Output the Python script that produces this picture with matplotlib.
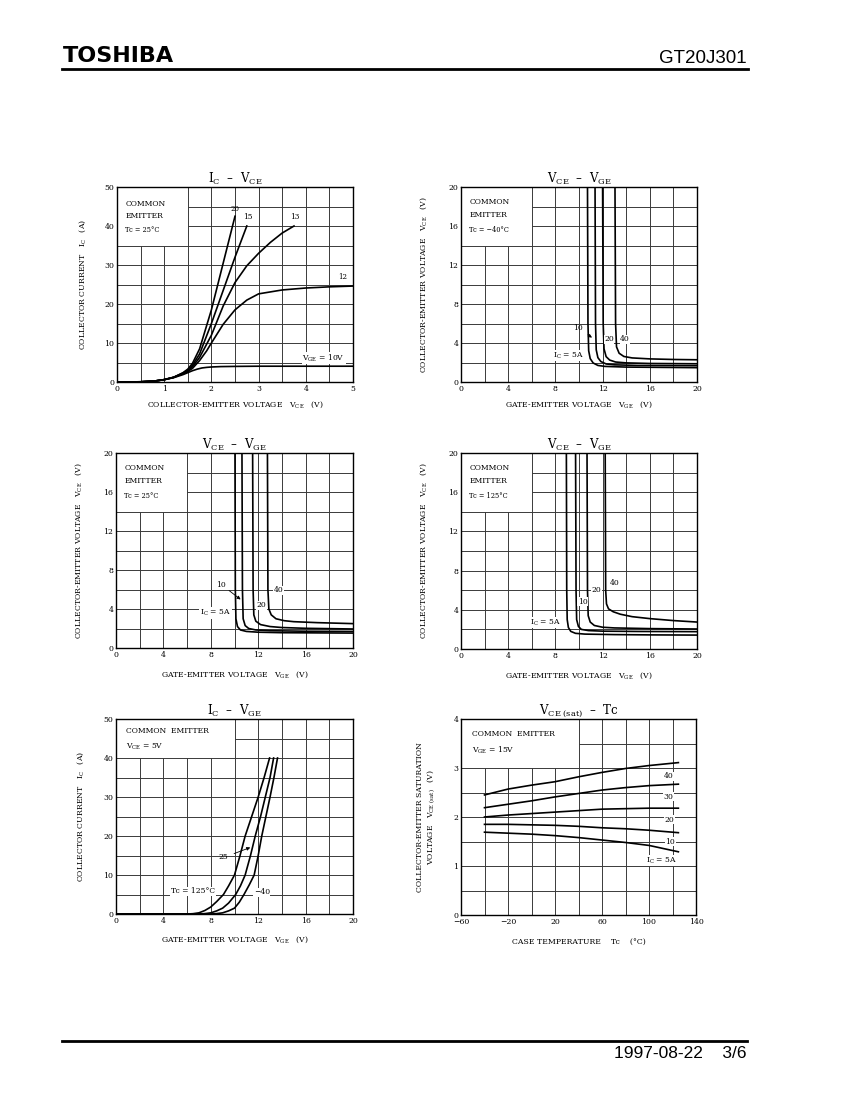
import matplotlib
matplotlib.use('Agg')
import matplotlib.pyplot as plt
from matplotlib.ticker import MultipleLocator
from matplotlib.patches import Rectangle
from matplotlib.lines import Line2D

plt.rcParams['font.family'] = ['DejaVu Serif']
plt.rcParams['mathtext.default'] = 'regular'

W, H = 850, 1100

# ---- IC - VCE, Tc=25C  (VCE [V], IC [A]) for VGE = 10, 12, 13, 15, 20 V
vce_10 = [0, 0.5, 0.8, 1.0, 1.2, 1.4, 1.5, 1.6, 1.7, 1.8, 1.9, 2.0, 2.2, 2.5, 3.0, 4.0, 5.0]
ic_10 = [0, 0.05, 0.25, 0.6, 1.1, 1.9, 2.4, 2.9, 3.3, 3.6, 3.75, 3.85, 3.95, 4.0, 4.05, 4.05, 4.05]
vce_12 = [0, 0.5, 0.8, 1.0, 1.2, 1.4, 1.5, 1.6, 1.75, 1.9, 2.0, 2.25, 2.5, 2.75, 3.0, 3.5, 4.0, 4.5, 5.0]
ic_12 = [0, 0.05, 0.25, 0.6, 1.2, 2.1, 2.7, 3.5, 5.5, 8.0, 10.0, 14.8, 18.5, 21.0, 22.6, 23.6, 24.1, 24.4, 24.6]
vce_13 = [0, 0.5, 0.8, 1.0, 1.2, 1.4, 1.5, 1.6, 1.75, 2.0, 2.25, 2.5, 2.75, 3.0, 3.25, 3.5, 3.75]
ic_13 = [0, 0.05, 0.25, 0.6, 1.2, 2.2, 2.9, 3.9, 6.3, 12.0, 19.5, 25.5, 29.8, 33.0, 35.8, 38.2, 40.0]
vce_15 = [0, 0.5, 0.8, 1.0, 1.2, 1.4, 1.5, 1.6, 1.75, 2.0, 2.25, 2.5, 2.75]
ic_15 = [0, 0.05, 0.25, 0.6, 1.2, 2.3, 3.1, 4.3, 7.2, 15.0, 23.5, 32.0, 40.0]
vce_20 = [0, 0.5, 0.8, 1.0, 1.2, 1.4, 1.5, 1.6, 1.75, 2.0, 2.25, 2.5]
ic_20 = [0, 0.05, 0.25, 0.6, 1.2, 2.4, 3.3, 4.8, 8.5, 18.5, 30.5, 42.5]

# ---- VCE - VGE, Tc=-40C  (VGE [V], VCE [V]) for IC = 5, 10, 20, 40 A
m40_vge_5 = [10.72, 10.76, 10.82, 10.95, 11.2, 11.6, 12.2, 14, 17, 20]
m40_vce_5 = [20, 6, 3.2, 2.4, 1.95, 1.7, 1.6, 1.53, 1.5, 1.47]
m40_vge_10 = [11.36, 11.4, 11.46, 11.6, 11.85, 12.3, 13, 15, 20]
m40_vce_10 = [20, 6, 3.3, 2.5, 2.1, 1.85, 1.76, 1.7, 1.67]
m40_vge_20 = [12.0, 12.05, 12.12, 12.3, 12.6, 13.1, 14, 16, 20]
m40_vce_20 = [20, 6, 3.4, 2.6, 2.25, 2.05, 1.96, 1.9, 1.87]
m40_vge_40 = [13.05, 13.1, 13.18, 13.4, 13.8, 14.5, 16, 18, 20]
m40_vce_40 = [20, 6, 3.6, 2.95, 2.62, 2.47, 2.37, 2.31, 2.28]

# ---- VCE - VGE, Tc=25C
t25_vge_5 = [10.04, 10.07, 10.12, 10.25, 10.5, 11.0, 12, 14, 17, 20]
t25_vce_5 = [20, 6, 3.0, 2.2, 1.85, 1.7, 1.62, 1.57, 1.55, 1.53]
t25_vge_10 = [10.63, 10.67, 10.73, 10.9, 11.2, 11.8, 13, 16, 20]
t25_vce_10 = [20, 6, 3.0, 2.3, 2.0, 1.85, 1.77, 1.72, 1.7]
t25_vge_20 = [11.53, 11.57, 11.63, 11.8, 12.2, 13, 14, 16, 20]
t25_vce_20 = [20, 6, 3.4, 2.75, 2.4, 2.2, 2.1, 2.02, 1.95]
t25_vge_40 = [12.78, 12.82, 12.9, 13.1, 13.5, 14.2, 15, 17, 20]
t25_vce_40 = [20, 6, 4.0, 3.4, 3.0, 2.8, 2.7, 2.6, 2.5]

# ---- VCE - VGE, Tc=125C
t125_vge_5 = [8.93, 8.96, 9.0, 9.1, 9.3, 9.7, 10.5, 13, 16, 20]
t125_vce_5 = [20, 6, 3.0, 2.2, 1.8, 1.6, 1.52, 1.47, 1.44, 1.42]
t125_vge_10 = [9.71, 9.75, 9.8, 9.95, 10.2, 10.8, 12, 15, 20]
t125_vce_10 = [20, 6, 3.0, 2.3, 2.0, 1.88, 1.82, 1.79, 1.77]
t125_vge_20 = [10.68, 10.72, 10.78, 10.95, 11.3, 12, 13, 16, 20]
t125_vce_20 = [20, 6, 3.4, 2.75, 2.4, 2.22, 2.15, 2.08, 2.04]
t125_vge_40 = [12.22, 12.26, 12.33, 12.5, 12.9, 13.5, 14.5, 16, 18, 20]
t125_vce_40 = [20, 6, 4.6, 4.1, 3.8, 3.55, 3.3, 3.1, 2.9, 2.75]

# ---- IC - VGE, VCE=5V  for Tc = 125, 25, -40 C
tf_vge_125 = [0, 6, 6.5, 7, 7.5, 8, 8.5, 9.07, 9.5, 10, 10.45, 10.9, 11.45, 12, 12.5, 12.96]
tf_ic_125 = [0, 0, 0.08, 0.3, 0.9, 1.8, 3.2, 5, 7.2, 10, 14.8, 20, 25, 30, 35, 40]
tf_vge_25 = [0, 7, 7.5, 8, 8.5, 9, 9.5, 10.1, 10.5, 10.9, 11.35, 11.75, 12.2, 12.6, 13.0, 13.3]
tf_ic_25 = [0, 0, 0.1, 0.3, 0.8, 1.5, 2.8, 5, 7.2, 10, 15, 20, 25, 30, 35, 40]
tf_vge_m40 = [0, 8, 8.5, 9, 9.5, 10, 10.4, 10.8, 11.25, 11.66, 12.0, 12.3, 12.65, 13.0, 13.33, 13.63]
tf_ic_m40 = [0, 0, 0.1, 0.3, 0.8, 1.5, 3, 5, 7.5, 10, 15, 20, 25, 30, 35, 40]

# ---- VCE(sat) - Tc, VGE=15V  for IC = 40, 30, 20, 10, 5 A
tc = [-40, -20, 0, 20, 40, 60, 80, 100, 125]
sat_40 = [2.45, 2.57, 2.65, 2.72, 2.82, 2.91, 2.99, 3.05, 3.11]
sat_30 = [2.19, 2.26, 2.33, 2.41, 2.48, 2.55, 2.6, 2.64, 2.67]
sat_20 = [2.0, 2.04, 2.07, 2.1, 2.13, 2.16, 2.17, 2.18, 2.18]
sat_10 = [1.85, 1.85, 1.84, 1.83, 1.81, 1.78, 1.76, 1.73, 1.68]
sat_5 = [1.69, 1.67, 1.65, 1.62, 1.58, 1.53, 1.48, 1.42, 1.29]
tc_ticks = [-60, -20, 20, 60, 100, 140]

fig = plt.figure(figsize=(8.5, 11), dpi=100)

WB = dict(fc='white', ec='none', pad=0.4)


def panel(x0, y0, x1, y1, xlim, ylim, xmaj, ymaj, xmin, ymin, box,
          title, xlabel, ylabel, ylab_off, xlab_off):
    ax = fig.add_axes([x0 / W, 1 - y1 / H, (x1 - x0) / W, (y1 - y0) / H])
    ax.set_xlim(xlim)
    ax.set_ylim(ylim)
    ax.xaxis.set_major_locator(MultipleLocator(xmaj))
    ax.yaxis.set_major_locator(MultipleLocator(ymaj))
    ax.xaxis.set_minor_locator(MultipleLocator(xmin))
    ax.yaxis.set_minor_locator(MultipleLocator(ymin))
    ax.set_axisbelow(True)
    ax.grid(which='both', color='#3a3a3a', lw=0.7)
    ax.tick_params(which='both', length=0, pad=2, labelsize=5.6)
    for s in ax.spines.values():
        s.set_linewidth(1.0)
    ax.add_patch(Rectangle((box[0], box[1]), box[2] - box[0], box[3] - box[1],
                           fc='white', ec='none', zorder=1))
    ax.set_title(title, fontsize=8.5, pad=3)
    ax.set_xlabel(xlabel, fontsize=5.6)
    ax.set_ylabel(ylabel, fontsize=5.6)
    ax.yaxis.set_label_coords(-ylab_off / (x1 - x0), 0.5)
    ax.xaxis.set_label_coords(0.5, -xlab_off / (y1 - y0))
    return ax


def curve(ax, x, y):
    ax.plot(x, y, color='black', lw=1.2, zorder=2)


vge_lab = 'GATE-EMITTER VOLTAGE   $V_{GE}$   (V)'
vce_lab = 'COLLECTOR-EMITTER VOLTAGE   $V_{CE}$   (V)'
ic_lab = 'COLLECTOR CURRENT   $I_C$   (A)'

# panel 1
ax = panel(117, 187, 353, 382, (0, 5), (0, 50), 1, 10, 0.5, 5, (0, 35, 1.5, 50),
           '$I_C$  –  $V_{CE}$', 'COLLECTOR-EMITTER VOLTAGE   $V_{CE}$   (V)',
           ic_lab, 29, 18)
for x, y in [(vce_10, ic_10), (vce_12, ic_12), (vce_13, ic_13), (vce_15, ic_15), (vce_20, ic_20)]:
    curve(ax, x, y)
ax.text(0.18, 45.7, 'COMMON', fontsize=5.5, va='center')
ax.text(0.18, 42.5, 'EMITTER', fontsize=5.5, va='center')
ax.text(0.18, 38.9, 'Tc = 25°C', fontsize=4.8, va='center')
ax.text(2.49, 44.4, '20', fontsize=5, ha='center', va='center')
ax.text(2.78, 42.2, '15', fontsize=5.3, ha='center', va='center')
ax.text(3.76, 42.2, '13', fontsize=5.3, ha='center', va='center')
ax.text(4.79, 26.9, '12', fontsize=5, ha='center', va='center', bbox=WB)
ax.text(4.38, 6.1, '$V_{GE}$ = 10V', fontsize=5.5, ha='center', va='center', bbox=WB)

# panel 2
ax = panel(461, 187, 697, 382, (0, 20), (0, 20), 4, 4, 2, 2, (0, 14, 6, 20),
           '$V_{CE}$  –  $V_{GE}$', vge_lab, vce_lab, 32, 18)
for x, y in [(m40_vge_5, m40_vce_5), (m40_vge_10, m40_vce_10),
             (m40_vge_20, m40_vce_20), (m40_vge_40, m40_vce_40)]:
    curve(ax, x, y)
ax.text(0.7, 18.5, 'COMMON', fontsize=5.5, va='center')
ax.text(0.7, 17.1, 'EMITTER', fontsize=5.5, va='center')
ax.text(0.7, 15.6, 'Tc = −40°C', fontsize=4.8, va='center')
ax.annotate('10', xy=(11.3, 4.4), xytext=(9.9, 5.5), fontsize=5.5, ha='center', va='center',
            arrowprops=dict(arrowstyle='-|>', lw=0.6, color='k', mutation_scale=5))
ax.text(12.55, 4.36, '20', fontsize=5.5, ha='center', va='center', bbox=WB)
ax.text(13.9, 4.36, '40', fontsize=5.5, ha='center', va='center', bbox=WB)
ax.text(9.1, 2.7, '$I_C$ = 5A', fontsize=5.5, ha='center', va='center', bbox=WB)

# panel 3
ax = panel(116, 453, 353, 648, (0, 20), (0, 20), 4, 4, 2, 2, (0, 14, 6, 20),
           '$V_{CE}$  –  $V_{GE}$', vge_lab, vce_lab, 32, 22)
for x, y in [(t25_vge_5, t25_vce_5), (t25_vge_10, t25_vce_10),
             (t25_vge_20, t25_vce_20), (t25_vge_40, t25_vce_40)]:
    curve(ax, x, y)
ax.text(0.7, 18.5, 'COMMON', fontsize=5.5, va='center')
ax.text(0.7, 17.1, 'EMITTER', fontsize=5.5, va='center')
ax.text(0.7, 15.6, 'Tc = 25°C', fontsize=4.8, va='center')
ax.annotate('10', xy=(10.7, 4.8), xytext=(8.9, 6.5), fontsize=5.5, ha='center', va='center',
            bbox=WB, arrowprops=dict(arrowstyle='-|>', lw=0.6, color='k', mutation_scale=5))
ax.text(8.4, 3.6, '$I_C$ = 5A', fontsize=5.5, ha='center', va='center', bbox=WB)
ax.text(12.3, 4.36, '20', fontsize=5.5, ha='center', va='center', bbox=WB)
ax.text(13.7, 5.9, '40', fontsize=5.5, ha='center', va='center', bbox=WB)

# panel 4
ax = panel(461, 453, 697, 649, (0, 20), (0, 20), 4, 4, 2, 2, (0, 14, 6, 20),
           '$V_{CE}$  –  $V_{GE}$', vge_lab, vce_lab, 32, 22)
for x, y in [(t125_vge_5, t125_vce_5), (t125_vge_10, t125_vce_10),
             (t125_vge_20, t125_vce_20), (t125_vge_40, t125_vce_40)]:
    curve(ax, x, y)
ax.text(0.7, 18.5, 'COMMON', fontsize=5.5, va='center')
ax.text(0.7, 17.1, 'EMITTER', fontsize=5.5, va='center')
ax.text(0.7, 15.6, 'Tc = 125°C', fontsize=4.8, va='center')
ax.text(7.2, 2.7, '$I_C$ = 5A', fontsize=5.5, ha='center', va='center', bbox=WB)
ax.text(10.3, 4.8, '10', fontsize=5.5, ha='center', va='center', bbox=WB)
ax.text(11.5, 6.0, '20', fontsize=5.5, ha='center', va='center', bbox=WB)
ax.text(13.0, 6.7, '40', fontsize=5.5, ha='center', va='center', bbox=WB)

# panel 5
ax = panel(116, 719, 353, 914, (0, 20), (0, 50), 4, 10, 2, 5, (0, 40, 10, 50),
           '$I_C$  –  $V_{GE}$', vge_lab, ic_lab, 30, 21)
for x, y in [(tf_vge_125, tf_ic_125), (tf_vge_25, tf_ic_25), (tf_vge_m40, tf_ic_m40)]:
    curve(ax, x, y)
ax.text(0.85, 46.8, 'COMMON  EMITTER', fontsize=5.5, va='center')
ax.text(0.85, 42.9, '$V_{CE}$ = 5V', fontsize=5.5, va='center')
ax.text(6.5, 5.8, 'Tc = 125°C', fontsize=5.5, ha='center', va='center', bbox=WB)
ax.annotate('25', xy=(11.55, 17.3), xytext=(9.1, 14.5), fontsize=5.5, ha='center', va='center',
            arrowprops=dict(arrowstyle='-|>', lw=0.6, color='k', mutation_scale=5))
ax.text(12.3, 5.6, '−40', fontsize=5.5, ha='center', va='center', bbox=WB)

# panel 6
ax = panel(461, 719, 696, 915, (-60, 140), (0, 4), 40, 1, 20, 0.5, (-60, 3, 40, 4),
           '$V_{CE\ (sat)}$  –  Tc', 'CASE TEMPERATURE    Tc    (°C)',
           'COLLECTOR-EMITTER SATURATION\nVOLTAGE   $V_{CE\ (sat)}$   (V)', 24, 23)
ax.set_xticks(tc_ticks)
for y in [sat_40, sat_30, sat_20, sat_10, sat_5]:
    curve(ax, tc, y)
ax.text(-51, 3.69, 'COMMON  EMITTER', fontsize=5.5, va='center')
ax.text(-51, 3.36, '$V_{GE}$ = 15V', fontsize=5.5, va='center')
ax.text(116.5, 2.83, '40', fontsize=5.5, ha='center', va='center', bbox=WB)
ax.text(116.5, 2.41, '30', fontsize=5.5, ha='center', va='center', bbox=WB)
ax.text(117.5, 1.94, '20', fontsize=5.5, ha='center', va='center', bbox=WB)
ax.text(118, 1.5, '10', fontsize=5.5, ha='center', va='center', bbox=WB)
ax.text(111, 1.11, '$I_C$ = 5A', fontsize=5.5, ha='center', va='center', bbox=WB)

# page header / footer
fig.text(63 / W, 1 - 62 / H, 'TOSHIBA', family='DejaVu Sans', weight='heavy', fontsize=16)
fig.text(747 / W, 1 - 63 / H, 'GT20J301', family='Liberation Sans', fontsize=13.5, ha='right')
fig.add_artist(Line2D([62 / W, 748 / W], [1 - 69 / H, 1 - 69 / H], color='black', lw=2))
fig.add_artist(Line2D([62 / W, 747 / W], [1 - 1041 / H, 1 - 1041 / H], color='black', lw=2))
fig.text(746 / W, 1 - 1058 / H, '1997-08-22    3/6', family='Liberation Sans', fontsize=12.5, ha='right')

fig.savefig('out.png', dpi=100)
